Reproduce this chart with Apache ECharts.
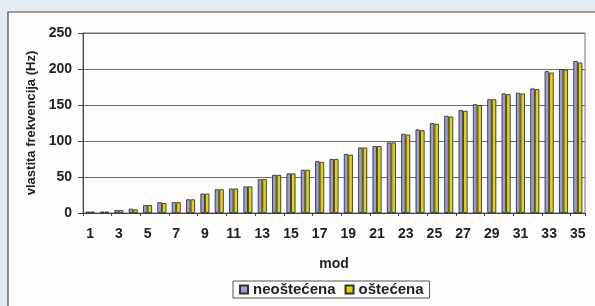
<!DOCTYPE html>
<html>
<head>
<meta charset="utf-8">
<script src="https://cdn.jsdelivr.net/npm/echarts@6/dist/echarts.min.js"></script>
<style>
  html, body { margin: 0; padding: 0; background: #e4ebf1; }
  #chart { width: 595px; height: 306px; }
</style>
</head>
<body>
<div id="chart"></div>
<script>
// modes 1..35
var modes = [];
for (var i = 1; i <= 35; i++) modes.push(String(i));

// vlastite frekvencije (Hz)
var neostecena = [2, 2, 4, 6, 11, 15, 15, 19, 27, 33, 34, 37, 47, 53, 55, 60, 72, 75,
  82, 91, 93, 98, 110, 116, 125, 135, 143, 151, 158, 166, 167, 173, 197, 200, 211];
var ostecena = [2, 2, 4, 5, 11, 14, 15, 19, 27, 33, 34, 37, 47, 53, 55, 60, 71, 75,
  81, 91, 93, 98, 109, 115, 124, 134, 142, 150, 158, 165, 166, 172, 195, 199, 209];

var yTicks = { min: 0, max: 250, interval: 50 };

var FONT = "Liberation Sans, Arial, sans-serif";

var chart = echarts.init(document.getElementById("chart"));
chart.setOption({
  backgroundColor: "#e4ebf1",
  animation: false,
  textStyle: { fontFamily: FONT, color: "#222" },
  graphic: [
    {
      type: "rect",
      z: -10,
      shape: { x: 8, y: 12, width: 600, height: 310 },
      style: { fill: "#fdfdfd", stroke: "#4a4a4a", lineWidth: 1.2 }
    }
  ],
  grid: {
    left: 83, right: 10, top: 33, bottom: 93,
    show: true, borderColor: "#777", borderWidth: 1
  },
  legend: {
    data: ["neoštećena", "oštećena"],
    left: 233, top: 281,
    padding: [1, 6, 1, 6],
    borderColor: "#555", borderWidth: 1,
    itemWidth: 8, itemHeight: 8, itemGap: 9,
    icon: "rect",
    textStyle: { fontFamily: FONT, fontSize: 15, fontWeight: "bold", color: "#222", padding: [0, 0, 0, 0] }
  },
  xAxis: {
    type: "category",
    data: modes,
    name: "mod",
    nameLocation: "middle",
    nameGap: 44,
    nameTextStyle: { fontFamily: FONT, fontSize: 14, fontWeight: "bold", color: "#222" },
    axisLine: { lineStyle: { color: "#444", width: 1 } },
    axisTick: { show: true, alignWithLabel: false, length: 3, lineStyle: { color: "#444" } },
    axisLabel: { interval: 1, margin: 14, fontSize: 14, fontWeight: "bold", color: "#222" }
  },
  yAxis: {
    type: "value",
    min: yTicks.min, max: yTicks.max, interval: yTicks.interval,
    name: "vlastita frekvencija (Hz)",
    nameLocation: "middle",
    nameGap: 41,
    nameTextStyle: { fontFamily: FONT, fontSize: 13, fontWeight: "bold", color: "#222" },
    axisLine: { show: true, lineStyle: { color: "#444" } },
    axisTick: { show: true, length: 5, lineStyle: { color: "#444" } },
    axisLabel: { margin: 11, fontSize: 14, fontWeight: "bold", color: "#222" },
    splitLine: { lineStyle: { color: "#6e6e62", width: 1 } }
  },
  series: [
    {
      name: "neoštećena",
      type: "bar",
      data: neostecena,
      barGap: "0%",
      barCategoryGap: "37%",
      itemStyle: { color: "#9d9dd6", borderColor: "#333", borderWidth: 0.9 }
    },
    {
      name: "oštećena",
      type: "bar",
      data: ostecena,
      itemStyle: { color: "#e3d600", borderColor: "#333", borderWidth: 0.9 }
    }
  ]
});
</script>
</body>
</html>
